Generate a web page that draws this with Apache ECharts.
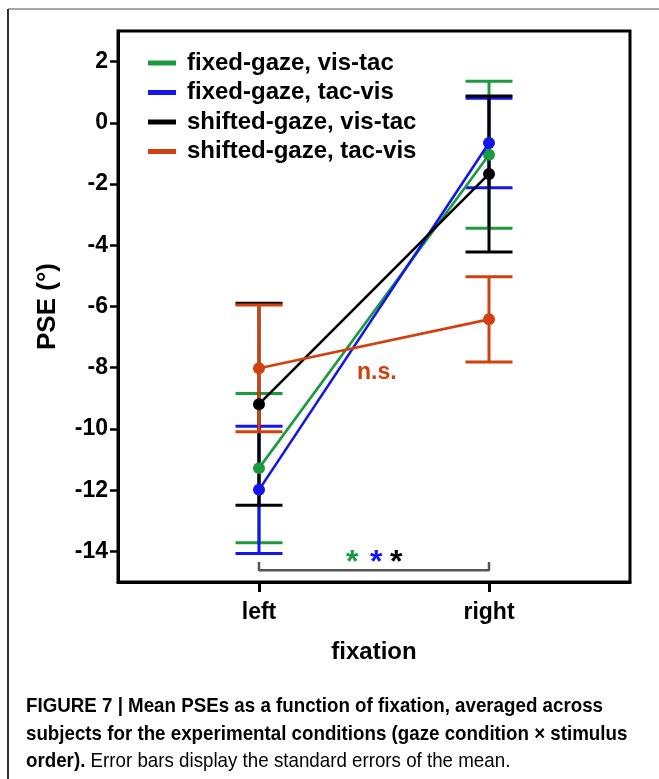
<!DOCTYPE html>
<html>
<head>
<meta charset="utf-8">
<script src="https://cdn.jsdelivr.net/npm/echarts@6/dist/echarts.min.js"></script>
<style>
html,body{margin:0;padding:0;background:#fff;}
#chart{width:659px;height:779px;}
</style>
</head>
<body>
<div id="chart"></div>
<script>
// ---- data ----
var categories = ['left', 'right'];
var seriesNames = ['fixed-gaze, vis-tac', 'fixed-gaze, tac-vis', 'shifted-gaze, vis-tac', 'shifted-gaze, tac-vis'];
var seriesColors = ['#1c9a3e', '#1414ee', '#000000', '#d2400f'];
var fixedVisTacMean = [-11.28, -1.04];
var fixedVisTacErr = [2.44, 2.40];
var fixedTacVisMean = [-11.99, -0.66];
var fixedTacVisErr = [2.08, 1.46];
var shiftedVisTacMean = [-9.19, -1.67];
var shiftedVisTacErr = [3.30, 2.55];
var shiftedTacVisMean = [-8.02, -6.42];
var shiftedTacVisErr = [2.07, 1.39];
var yTicks = [-14, -12, -10, -8, -6, -4, -2, 0, 2];
var bracketY = [-14.35, -14.62];
var captionLines = [
  'FIGURE 7 | Mean PSEs as a function of fixation, averaged across',
  'subjects for the experimental conditions (gaze condition \u00d7 stimulus'
];
var captionBold3 = 'order).';
var captionNormal3 = ' Error bars display the standard errors of the mean.';

var means = [fixedVisTacMean, fixedTacVisMean, shiftedVisTacMean, shiftedTacVisMean];
var errs = [fixedVisTacErr, fixedTacVisErr, shiftedVisTacErr, shiftedTacVisErr];

var chart = echarts.init(document.getElementById('chart'), null, {renderer: 'canvas'});
var FONT = '"Liberation Sans", Arial, sans-serif';

// caption horizontal condensation (reference uses a condensed face)
var mc = document.createElement('canvas').getContext('2d');
function measure(txt, weight, size) {
  mc.font = weight + ' ' + size + 'px ' + FONT;
  return mc.measureText(txt).width;
}
var CAP_SIZE = 21;
var w1 = measure(captionLines[0], 'bold', CAP_SIZE);
var capScale = 577 / w1;

var series = [];
means.forEach(function (m, i) {
  var data = m.map(function (v, j) { return [j, v - errs[i][j], v + errs[i][j]]; });
  series.push({
    type: 'custom',
    name: seriesNames[i] + ' SEM',
    data: data,
    z: 2 + i,
    renderItem: function (params, api) {
      var x = api.value(0);
      var lo = api.coord([x, api.value(1)]);
      var hi = api.coord([x, api.value(2)]);
      var hw = 23.5;
      var st = {stroke: seriesColors[i], lineWidth: 3};
      return {
        type: 'group',
        children: [
          {type: 'line', shape: {x1: lo[0], y1: lo[1], x2: hi[0], y2: hi[1]}, style: st},
          {type: 'line', shape: {x1: lo[0] - hw, y1: lo[1], x2: lo[0] + hw, y2: lo[1]}, style: st},
          {type: 'line', shape: {x1: hi[0] - hw, y1: hi[1], x2: hi[0] + hw, y2: hi[1]}, style: st}
        ]
      };
    }
  });
});
means.forEach(function (m, i) {
  series.push({
    type: 'line',
    name: seriesNames[i],
    data: m.map(function (v, j) { return [j, v]; }),
    color: seriesColors[i],
    symbol: 'circle',
    symbolSize: 12,
    showSymbol: true,
    lineStyle: {width: 2.6, color: seriesColors[i]},
    itemStyle: {color: seriesColors[i]},
    z: 10 + i,
    animation: false
  });
});
series.push({
  type: 'line',
  name: 'bracket',
  data: [[0, bracketY[0]], [0, bracketY[1]], [1, bracketY[1]], [1, bracketY[0]]],
  symbol: 'none',
  lineStyle: {width: 2.5, color: '#555555'},
  z: 5,
  animation: false
});

var capFont = FONT;
var option = {
  animation: false,
  backgroundColor: '#ffffff',
  grid: {
    left: 118, right: 29, top: 31, bottom: 197,
    show: true, borderColor: '#000', borderWidth: 3, backgroundColor: 'transparent'
  },
  legend: {
    data: seriesNames,
    orient: 'vertical',
    left: 143,
    top: 46,
    icon: 'rect',
    itemWidth: 28,
    itemHeight: 5,
    itemGap: 5.5,
    textStyle: {fontFamily: FONT, fontWeight: 'bold', fontSize: 24, color: '#000', lineHeight: 24, padding: [0, 0, 0, 6]}
  },
  xAxis: {
    type: 'value',
    min: -0.613,
    max: 1.613,
    name: 'fixation',
    nameLocation: 'middle',
    nameGap: 58,
    nameTextStyle: {fontFamily: FONT, fontWeight: 'bold', fontSize: 24, color: '#000'},
    axisLine: {show: true, onZero: false, lineStyle: {color: '#000', width: 3}},
    axisTick: {show: true, length: 10, lineStyle: {color: '#000', width: 3}, customValues: [0, 1]},
    axisLabel: {
      customValues: [0, 1],
      formatter: function (v) { return categories[Math.round(v)]; },
      fontFamily: FONT, fontWeight: 'bold', fontSize: 23, color: '#000', margin: 19
    },
    splitLine: {show: false}
  },
  yAxis: {
    type: 'value',
    min: -15,
    max: 3,
    name: 'PSE (°)',
    nameLocation: 'middle',
    nameGap: 57,
    nameTextStyle: {fontFamily: FONT, fontWeight: 'bold', fontSize: 26, color: '#000'},
    axisLine: {show: true, onZero: false, lineStyle: {color: '#000', width: 3}},
    axisTick: {show: true, length: 8, lineStyle: {color: '#000', width: 2.5}, customValues: yTicks},
    axisLabel: {customValues: yTicks, fontFamily: FONT, fontWeight: 'bold', fontSize: 23, color: '#000', margin: 10},
    splitLine: {show: false}
  },
  graphic: [
    {type: 'line', shape: {x1: 8, y1: 9, x2: 659, y2: 9}, style: {stroke: '#888', lineWidth: 1.5}, silent: true},
    {type: 'line', shape: {x1: 8, y1: 9, x2: 8, y2: 779}, style: {stroke: '#333', lineWidth: 2}, silent: true},
    {type: 'text', left: 357, top: 361, style: {text: 'n.s.', fill: '#d2400f', font: 'bold 23px ' + FONT}},
    {type: 'text', left: 346, top: 547, style: {text: '*', fill: '#1c9a3e', font: 'bold 32px ' + FONT}},
    {type: 'text', left: 370, top: 547, style: {text: '*', fill: '#1414ee', font: 'bold 32px ' + FONT}},
    {type: 'text', left: 390, top: 547, style: {text: '*', fill: '#000', font: 'bold 32px ' + FONT}},
    {type: 'text', x: 26, y: 696, scaleX: capScale, style: {text: captionLines[0], fill: '#000', font: 'bold ' + CAP_SIZE + 'px ' + capFont}},
    {type: 'text', x: 26, y: 724, scaleX: capScale, style: {text: captionLines[1], fill: '#000', font: 'bold ' + CAP_SIZE + 'px ' + capFont}},
    {type: 'text', x: 26, y: 751, scaleX: capScale, style: {
      text: '{b|' + captionBold3 + '}{n|' + captionNormal3 + '}',
      rich: {
        b: {fontFamily: capFont, fontWeight: 'bold', fontSize: CAP_SIZE, fill: '#000'},
        n: {fontFamily: capFont, fontWeight: 'normal', fontSize: CAP_SIZE, fill: '#000'}
      }
    }}
  ],
  series: series
};
chart.setOption(option);
</script>
</body>
</html>
